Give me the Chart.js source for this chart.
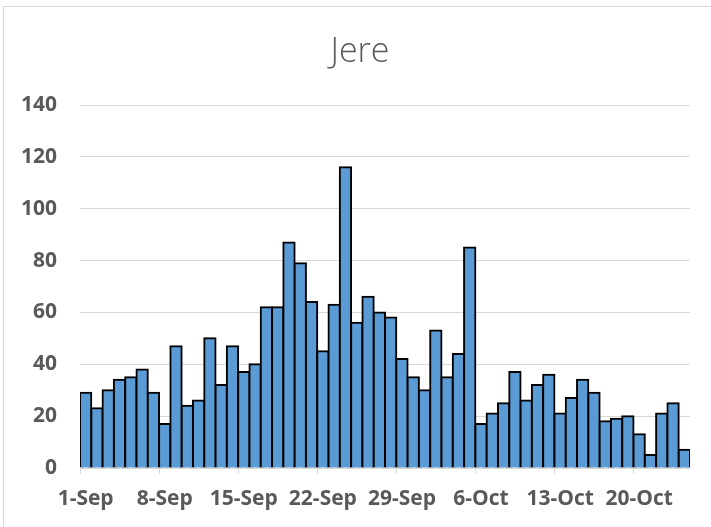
<!DOCTYPE html>
<html>
<head>
<meta charset="utf-8">
<script src="https://cdn.jsdelivr.net/npm/chart.js@4.4.1/dist/chart.umd.min.js"></script>
<style>
  html, body { margin: 0; padding: 0; background: #fff; overflow: hidden; }
  #wrap { position: relative; width: 711px; height: 527px; }
  #frame { position: absolute; left: 3px; top: 6px; width: 800px; height: 600px;
           border-left: 1px solid #d9d9d9; border-top: 1px solid #d9d9d9; pointer-events: none; }
</style>
</head>
<body>
<div id="wrap">
  <canvas id="grafiek" width="711" height="527"></canvas>
  <div id="frame"></div>
</div>
<script>
const dagen = [
  "1-Sep", "2-Sep", "3-Sep", "4-Sep", "5-Sep", "6-Sep", "7-Sep", "8-Sep", "9-Sep", "10-Sep",
  "11-Sep", "12-Sep", "13-Sep", "14-Sep", "15-Sep", "16-Sep", "17-Sep", "18-Sep", "19-Sep", "20-Sep",
  "21-Sep", "22-Sep", "23-Sep", "24-Sep", "25-Sep", "26-Sep", "27-Sep", "28-Sep", "29-Sep", "30-Sep",
  "1-Oct", "2-Oct", "3-Oct", "4-Oct", "5-Oct", "6-Oct", "7-Oct", "8-Oct", "9-Oct", "10-Oct",
  "11-Oct", "12-Oct", "13-Oct", "14-Oct", "15-Oct", "16-Oct", "17-Oct", "18-Oct", "19-Oct", "20-Oct",
  "21-Oct", "22-Oct", "23-Oct", "24-Oct"
];
const waarden = [
  29, 23, 30, 34, 35, 38, 29, 17, 47, 24,
  26, 50, 32, 47, 37, 40, 62, 62, 87, 79,
  64, 45, 63, 116, 56, 66, 60, 58, 42, 35,
  30, 53, 35, 44, 85, 17, 21, 25, 37, 26,
  32, 36, 21, 27, 34, 29, 18, 19, 20, 13,
  5, 21, 25, 7
];
const titel = "Jere";
const yMax = 140;
const yStap = 20;
const labelElke = 7; // om de 7 dagen een label

const grijs = "#595959";
const lijn = "#d9d9d9";

const ctx = document.getElementById('grafiek').getContext('2d');
new Chart(ctx, {
  type: 'bar',
  data: {
    labels: dagen,
    datasets: [{
      label: titel,
      data: waarden,
      backgroundColor: "#5b9bd5",
      borderColor: "#000000",
      borderWidth: 2,
      inflateAmount: 1,
      barPercentage: 1,
      categoryPercentage: 1
    }]
  },
  options: {
    responsive: false,
    animation: false,
    layout: { padding: { left: 9, right: 0, top: 0, bottom: 0 } },
    scales: {
      x: {
        offset: true,
        grid: {
          offset: true,
          drawOnChartArea: false,
          tickLength: 6,
          tickColor: (c) => (c.index % labelElke === 0 ? lijn : 'rgba(0,0,0,0)')
        },
        border: { color: lijn, width: 1 },
        ticks: {
          autoSkip: false,
          maxRotation: 0,
          padding: 12,
          color: grijs,
          font: { family: "'Open Sans', sans-serif", size: 21, weight: 'bold' },
          callback: function (v, i) { return i % labelElke === 0 ? this.getLabelForValue(v) : ''; }
        },
        afterFit: (s) => { s.height = 59; }
      },
      y: {
        min: 0,
        max: yMax,
        ticks: {
          stepSize: yStap,
          padding: 23,
          color: grijs,
          font: { family: "'Open Sans', sans-serif", size: 21, weight: 'bold' }
        },
        grid: { color: lijn, lineWidth: 1, drawTicks: false },
        border: { display: false },
        afterFit: (s) => { s.width = 71; }
      },
      // lege as rechts, alleen voor de marge
      rechts: {
        position: 'right',
        display: true,
        grid: { display: false },
        border: { display: false },
        ticks: { display: false },
        afterFit: (s) => { s.width = 21; }
      }
    },
    plugins: {
      legend: { display: false },
      tooltip: { enabled: false },
      title: {
        display: true,
        text: titel,
        color: grijs,
        font: { family: "'Open Sans', sans-serif", size: 34, weight: '300', lineHeight: 1.2 },
        padding: { top: 31.6, bottom: 32.6 }
      }
    }
  }
});
</script>
</body>
</html>
